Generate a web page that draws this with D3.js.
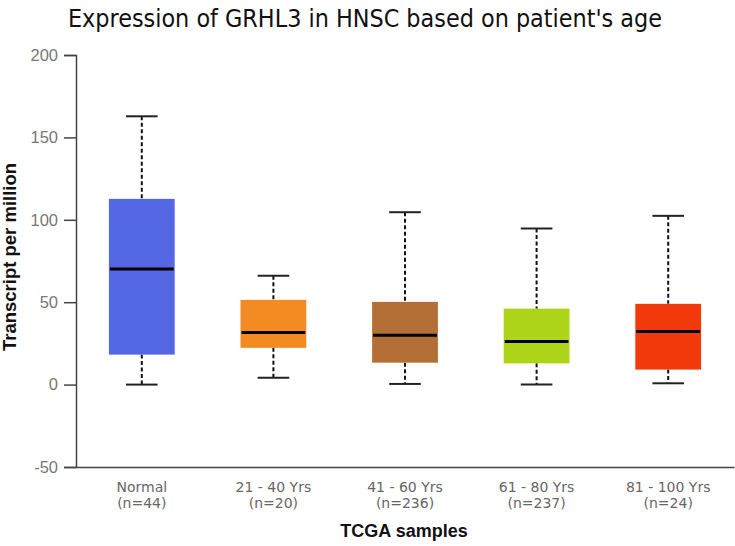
<!DOCTYPE html>
<html><head><meta charset="utf-8">
<script src="https://cdn.jsdelivr.net/npm/d3@7"></script>
<style>body{margin:0;background:#fff}</style>
</head><body>
<svg id="chart" width="735" height="546"></svg>
<script>
const categories = ["Normal", "21 - 40 Yrs", "41 - 60 Yrs", "61 - 80 Yrs", "81 - 100 Yrs"];
const counts = ["(n=44)", "(n=20)", "(n=236)", "(n=237)", "(n=24)"];
const whiskerLow = [0, 4.1, 0.4, 0, 0.8];
const q1Values = [18.2, 22.3, 13.3, 12.9, 9.1];
const medianValues = [70.2, 31.6, 29.9, 26.1, 32.2];
const q3Values = [112.7, 51.4, 50.2, 46.1, 49.0];
const whiskerHigh = [162.8, 66.1, 104.6, 94.7, 102.4];
const colors = ["#5467e4", "#f28c22", "#b36f35", "#aed41a", "#f23a0c"];
const yTicks = [-50, 0, 50, 100, 150, 200];

const data = categories.map((c, i) => ({
  cat: c, n: counts[i], lo: whiskerLow[i], q1: q1Values[i], med: medianValues[i],
  q3: q3Values[i], hi: whiskerHigh[i], color: colors[i]
}));

const svg = d3.select("#chart");
const x = d3.scaleBand().domain(categories).range([76, 734]).paddingInner(0.5).paddingOuter(0.25);
const y = d3.scaleLinear().domain([-50, 200]).range([467, 55]);

// title
svg.append("text").attr("x", 365).attr("y", 27).attr("text-anchor", "middle")
  .attr("font-family", "DejaVu Sans Condensed, DejaVu Sans").attr("font-size", 25).attr("fill", "#111")
  .attr("textLength", 594).attr("lengthAdjust", "spacingAndGlyphs")
  .text("Expression of GRHL3 in HNSC based on patient's age");

// y axis
const yAxis = svg.append("g").attr("transform", "translate(76,0)")
  .call(d3.axisLeft(y).tickValues(yTicks).tickSize(12).tickPadding(6).tickFormat(d => String(d)));
yAxis.select(".domain").attr("stroke", "#444").attr("stroke-width", 1.5);
yAxis.selectAll(".tick line").attr("stroke", "#444").attr("stroke-width", 1.5);
yAxis.selectAll(".tick text").attr("font-family", "Liberation Sans, Arial").attr("font-size", 16.5).attr("fill", "#777");

// x axis line
const xAxis = svg.append("g").attr("transform", "translate(0,467)")
  .call(d3.axisBottom(x).tickSize(0).tickSizeOuter(0).tickFormat(""));
xAxis.select(".domain").attr("stroke", "#444").attr("stroke-width", 1.5);

// x labels
const lab = svg.append("g");
data.forEach(d => {
  const cx = x(d.cat) + x.bandwidth() / 2;
  lab.append("text").attr("x", cx).attr("y", 492).attr("text-anchor", "middle")
    .attr("font-family", "DejaVu Sans").attr("font-size", 14).attr("fill", "#666").text(d.cat);
  lab.append("text").attr("x", cx).attr("y", 508).attr("text-anchor", "middle")
    .attr("font-family", "DejaVu Sans").attr("font-size", 14).attr("fill", "#666").text(d.n);
});

svg.append("text").attr("x", 404).attr("y", 537).attr("text-anchor", "middle")
  .attr("font-family", "Liberation Sans, Arial").attr("font-weight", "bold").attr("font-size", 18).attr("fill", "#111")
  .text("TCGA samples");
svg.append("text").attr("transform", "translate(16,257) rotate(-90)").attr("text-anchor", "middle")
  .attr("font-family", "Liberation Sans, Arial").attr("font-weight", "bold").attr("font-size", 18.5).attr("fill", "#111")
  .text("Transcript per million");

// boxes
const g = svg.append("g");
data.forEach(d => {
  const x0 = x(d.cat), w = x.bandwidth(), cx = x0 + w / 2, cw = w * 0.48;
  g.append("line").attr("x1", cx).attr("x2", cx).attr("y1", y(d.hi)).attr("y2", y(d.q3))
    .attr("stroke", "#111").attr("stroke-width", 2).attr("stroke-dasharray", "4,2.5");
  g.append("line").attr("x1", cx).attr("x2", cx).attr("y1", y(d.q1)).attr("y2", y(d.lo))
    .attr("stroke", "#111").attr("stroke-width", 2).attr("stroke-dasharray", "4,2.5");
  g.append("line").attr("x1", cx - cw / 2).attr("x2", cx + cw / 2).attr("y1", y(d.hi)).attr("y2", y(d.hi))
    .attr("stroke", "#222").attr("stroke-width", 2);
  g.append("line").attr("x1", cx - cw / 2).attr("x2", cx + cw / 2).attr("y1", y(d.lo)).attr("y2", y(d.lo))
    .attr("stroke", "#222").attr("stroke-width", 2);
  g.append("rect").attr("x", x0).attr("y", y(d.q3)).attr("width", w).attr("height", y(d.q1) - y(d.q3))
    .attr("fill", d.color);
  g.append("line").attr("x1", x0 + 1).attr("x2", x0 + w - 1).attr("y1", y(d.med)).attr("y2", y(d.med))
    .attr("stroke", "#000").attr("stroke-width", 3);
});
</script>
</body></html>
